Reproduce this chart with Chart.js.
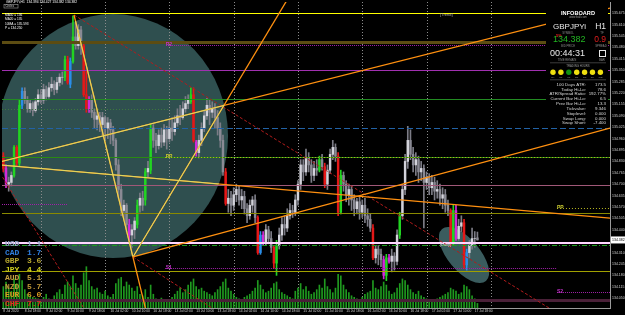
<!DOCTYPE html>
<html><head><meta charset="utf-8">
<script src="https://cdn.jsdelivr.net/npm/chart.js@4.4.1/dist/chart.umd.min.js"></script>
<style>html,body{margin:0;padding:0;background:#000;overflow:hidden}canvas{display:block}</style>
</head><body>
<canvas id="c" width="625" height="315"></canvas>
<script>
// ---------------- DATA ----------------
const symbol = 'GBPJPYi';
const timeframe = 'H1';
const bidPrice = 134.382;
const slotCount = 227;
const xTickLabels = ["8 Jul 2020","8 Jul 18:00","9 Jul 02:00","9 Jul 10:00","9 Jul 18:00","10 Jul 02:00","10 Jul 10:00","10 Jul 18:00","13 Jul 02:00","13 Jul 10:00","13 Jul 18:00","14 Jul 02:00","14 Jul 10:00","14 Jul 18:00","15 Jul 02:00","15 Jul 10:00","15 Jul 18:00","16 Jul 02:00","16 Jul 10:00","16 Jul 18:00","17 Jul 02:00","17 Jul 10:00","17 Jul 18:00"];
const yTickValues = [135.675,135.610,135.545,135.480,135.415,135.350,135.285,135.220,135.155,135.090,135.025,134.960,134.895,134.830,134.765,134.700,134.635,134.570,134.505,134.440,134.310,134.245,134.180,134.115,134.050];
const yMin = 133.994, yMax = 135.739;
const daySeparatorBars = [14,38,62,86,110,134,158,182];

const opens = [134.86,134.79,134.70,134.71,134.75,134.91,134.82,135.15,135.23,135.18,
135.13,135.16,135.12,135.17,135.21,135.18,135.24,135.20,135.25,135.27,
135.24,135.28,135.31,135.31,135.41,135.27,135.40,135.54,135.49,135.58,
135.49,135.21,135.13,135.18,135.11,135.07,135.09,135.04,135.08,135.02,
135.05,135.01,134.95,134.81,134.67,134.55,134.58,134.47,134.41,134.44,
134.47,134.58,134.62,134.61,134.77,134.78,135.02,134.95,134.92,134.98,
134.94,135.01,134.96,135.02,135.00,135.05,135.09,135.08,135.13,135.16,
135.17,135.21,134.94,134.88,134.95,135.02,135.09,135.15,135.11,135.13,
135.08,135.02,134.95,134.77,134.59,134.62,134.58,134.64,134.67,134.61,
134.63,134.56,134.52,134.58,134.61,134.51,134.31,134.41,134.37,134.44,
134.39,134.34,134.25,134.35,134.41,134.47,134.45,134.52,134.55,134.54,
134.61,134.70,134.81,134.77,134.85,134.81,134.75,134.79,134.78,134.84,
134.80,134.70,134.78,134.87,134.91,134.86,134.54,134.75,134.70,134.64,
134.67,134.61,134.56,134.60,134.54,134.58,134.52,134.50,134.45,134.28,
134.33,134.30,134.27,134.18,134.28,134.26,134.29,134.26,134.41,134.52,
134.67,134.83,134.95,134.87,134.81,134.84,134.77,134.79,134.71,134.74,
134.68,134.71,134.66,134.67,134.62,134.64,134.58,134.55,134.37,134.55,
134.39,134.46,134.48,134.24,134.31,134.35,134.39,134.394];
const highs = [134.88,134.81,134.74,134.77,134.92,134.92,135.18,135.25,135.25,135.20,
135.18,135.17,135.19,135.24,135.24,135.27,135.26,135.28,135.31,135.29,
135.31,135.33,135.34,135.43,135.43,135.42,135.66,135.62,135.61,135.60,
135.51,135.35,135.20,135.21,135.13,135.12,135.11,135.11,135.09,135.08,
135.07,135.03,134.96,134.84,134.70,134.61,134.59,134.50,134.47,134.51,
134.61,134.65,134.66,134.79,134.83,135.04,135.04,134.99,135.01,135.02,
135.04,135.03,135.07,135.08,135.09,135.13,135.15,135.17,135.20,135.21,
135.25,135.25,134.95,134.98,135.05,135.12,135.19,135.18,135.17,135.16,
135.12,135.05,134.98,134.79,134.67,134.66,134.68,134.70,134.69,134.67,
134.66,134.59,134.61,134.63,134.64,134.52,134.43,134.43,134.47,134.46,
134.43,134.35,134.38,134.45,134.51,134.52,134.56,134.59,134.58,134.64,
134.72,134.84,134.84,134.90,134.88,134.84,134.83,134.84,134.86,134.87,
134.82,134.81,134.90,134.95,134.93,134.88,134.78,134.77,134.72,134.70,
134.69,134.64,134.62,134.63,134.61,134.62,134.56,134.53,134.47,134.35,
134.35,134.33,134.29,134.30,134.30,134.33,134.31,134.44,134.54,134.70,
134.87,135.03,135.01,134.91,134.88,134.86,134.83,134.81,134.77,134.76,
134.75,134.74,134.72,134.70,134.68,134.67,134.61,134.56,134.58,134.58,
134.50,134.52,134.50,134.33,134.38,134.45,134.43,134.427];
const lows = [134.77,134.68,134.66,134.69,134.74,134.80,134.80,135.13,135.16,135.11,
135.11,135.09,135.11,135.15,135.16,135.16,135.18,135.19,135.23,135.21,
135.22,135.26,135.27,135.29,135.27,135.25,135.39,135.47,135.47,135.44,
135.20,135.11,135.11,135.08,135.02,135.01,135.00,134.98,134.95,134.96,
134.93,134.92,134.78,134.62,134.52,134.50,134.43,134.38,134.34,134.39,
134.45,134.54,134.55,134.58,134.74,134.76,134.91,134.88,134.90,134.91,
134.92,134.90,134.94,134.95,134.98,135.03,135.04,135.07,135.11,135.13,
135.16,134.94,134.86,134.85,134.92,135.00,135.07,135.04,135.08,135.02,
134.98,134.91,134.75,134.58,134.54,134.52,134.55,134.60,134.58,134.56,
134.53,134.48,134.50,134.54,134.48,134.30,134.30,134.35,134.35,134.36,
134.31,134.22,134.18,134.33,134.38,134.41,134.43,134.50,134.51,134.52,
134.58,134.67,134.72,134.75,134.77,134.71,134.72,134.75,134.77,134.78,
134.68,134.67,134.76,134.84,134.83,134.52,134.53,134.66,134.60,134.58,
134.55,134.52,134.53,134.50,134.51,134.48,134.46,134.43,134.27,134.25,
134.24,134.23,134.16,134.15,134.25,134.20,134.21,134.24,134.39,134.50,
134.64,134.79,134.84,134.77,134.75,134.71,134.72,134.45,134.67,134.64,
134.64,134.61,134.62,134.58,134.56,134.54,134.52,134.35,134.35,134.38,
134.38,134.43,134.22,134.21,134.28,134.33,134.34,134.382];
const closes = [134.79,134.70,134.71,134.75,134.91,134.82,135.15,135.23,135.18,135.13,
135.16,135.12,135.17,135.21,135.18,135.24,135.20,135.25,135.27,135.24,
135.28,135.31,135.31,135.41,135.28,135.40,135.54,135.49,135.58,135.49,
135.21,135.13,135.18,135.11,135.07,135.09,135.04,135.08,135.02,135.05,
135.01,134.95,134.81,134.67,134.55,134.58,134.47,134.41,134.44,134.49,
134.58,134.62,134.58,134.77,134.79,135.02,134.95,134.92,134.98,134.94,
135.01,134.96,135.02,135.00,135.05,135.09,135.08,135.13,135.16,135.18,
135.21,134.95,134.88,134.95,135.02,135.09,135.15,135.11,135.13,135.08,
135.02,134.95,134.77,134.59,134.62,134.58,134.64,134.67,134.61,134.63,
134.56,134.52,134.58,134.61,134.51,134.31,134.41,134.37,134.44,134.39,
134.34,134.25,134.35,134.41,134.47,134.45,134.52,134.55,134.54,134.61,
134.70,134.81,134.77,134.85,134.81,134.75,134.79,134.78,134.84,134.80,
134.70,134.78,134.87,134.91,134.86,134.54,134.75,134.70,134.64,134.67,
134.61,134.56,134.60,134.54,134.58,134.52,134.50,134.45,134.28,134.33,
134.30,134.27,134.18,134.28,134.26,134.29,134.26,134.41,134.52,134.67,
134.83,134.95,134.87,134.81,134.84,134.77,134.79,134.71,134.74,134.68,
134.71,134.66,134.67,134.62,134.64,134.58,134.55,134.37,134.55,134.39,
134.46,134.48,134.24,134.31,134.35,134.39,134.39,134.382];
const volumes = [1400,1700,1300,1100,1900,1600,2200,1800,1200,900,
800,700,650,600,500,700,900,600,550,800,
1000,1200,900,1500,1700,1400,2100,1600,1300,1500,
2300,2700,1800,1400,1200,1300,1000,900,1100,800,
700,900,1600,1900,2000,1400,1700,1500,1300,1100,
1400,900,800,1200,700,1500,900,600,500,650,
450,500,400,700,900,1100,1300,1000,1200,1500,
1700,1900,1400,1200,1300,1100,1000,900,800,1000,
1200,1400,1700,1900,1300,1100,900,700,600,500,
700,800,900,1100,1300,1800,1500,1200,1000,1100,
1300,1600,1700,1200,1000,900,800,700,600,1100,
1300,1600,1200,1400,1100,900,1000,1200,1500,1300,
1900,1400,1200,1000,1300,2200,2100,1500,1200,1000,
800,700,600,500,700,900,1000,1100,1800,1300,
1200,1400,1700,1500,1100,900,1000,1300,1600,1900,
1800,1500,1200,1000,900,1100,800,700,600,500,
450,500,600,700,800,900,1000,1300,1200,1100,
900,1000,1500,1400,1200,800,600,300];
// signal-coloured candles (index -> kind)
const signalBars = {0:'r',1:'m',4:'g',5:'r',6:'g',7:'b',23:'g',24:'r',25:'b',26:'g',30:'r',31:'r',32:'m',47:'m',50:'g',53:'g',55:'g',70:'g',71:'r',72:'m',83:'r',95:'r',96:'b',97:'m',101:'r',102:'g',118:'g',120:'r',125:'r',126:'g',138:'r',142:'m',143:'g',144:'m',148:'g',167:'r',168:'g',169:'m',172:'r',173:'b'};

// horizontal levels (prices)
const levelPrices = [135.676,135.511,135.494,135.351,135.186,135.129,135.020,134.855,134.855,134.696,134.587,134.564,134.536,134.365,134.354,134.222,134.205,134.086,134.040];
const levelFromBar = [null,null,61.5,null,null,null,null,null,60.4,null,null,206.7,null,null,null,60.4,null,206.7,null];
const levelToBar   = [null,null,null,null,null,61.5,null,null,null,null,23.8,null,null,null,null,206.7,null,null,null];
// trend lines: [bar1, price1, bar2, price2]
const trendLines = [[26.39,135.665,53.64,133.955],[48.42,134.285,105.92,135.75],[48.42,134.285,226.5,135.020],[-1.25,134.827,226.5,135.704],[-1.25,134.810,226.5,134.507]];
const redLines = [[26.39,135.665,204.9,133.983],[-1.25,134.764,31.6,133.955],[48.42,134.285,79.0,133.983]];
// ellipses
const bigEllipse = {bar1:-1.99, bar2:83.89, p1:135.670, p2:134.279};
const smallEllipse = {bar1:163.8, p1:134.445, bar2:180.2, p2:134.148};
// pivot labels
const pivotLabels = [{bar:60.6,p:135.494,t:'R2'},{bar:60.6,p:134.855,t:'PP'},{bar:60.6,p:134.222,t:'S1'},{bar:206.7,p:135.038,t:'R1'},{bar:206.7,p:134.564,t:'PP'},{bar:206.7,p:134.086,t:'S2'}];
// currency strength
const currencies = ['USD','CAD','GBP','JPY','AUD','NZD','EUR','CHF'];
const strength = [1.1,1.7,3.6,4.4,5.1,5.7,6.0,7.7];
// infoboard
const infoLabels = ['100 Days ATR:','Today Hi-Lo:','ATR/Spread Ratio:','Current Bar Hi-Lo:','Prev Bar Hi-Lo:','Tickvalue:','Stoplevel:','Swap Long:','Swap Short:'];
const infoValues = ['173.5','78.6','192.77%','6.5','13.3','9.346','0.000','0.000','-7.400'];
const sessionState = [1,1,2,1,1,1,1];
const sessionNames = ['SY','TK','HK','FR','LN','NY','WS'];

// ---------------- STYLE ----------------
const SIG = {g:'#22d422', r:'#e41818', b:'#2a8ee8', m:'#d22ad8'};
const bodyColors = opens.map((o,i)=> signalBars[i] ? SIG[signalBars[i]] : (closes[i] >= o ? '#d2d2da' : '#8a8a94'));
const wickColors = opens.map((o,i)=> signalBars[i] ? SIG[signalBars[i]] : '#7c7c86');
const levelStyles = [
 {c:'#ffff00',w:1},{c:'#5c4c12',w:3},{c:'#a020a8',w:1,d:[1,1]},{c:'#a030b0',w:1},{c:'#228b22',w:1},
 {c:'#3c7a3c',w:1,d:[1,2]},{c:'#2262a6',w:1,d:[6,3]},{c:'#2a8a12',w:1},{c:'#b8b820',w:1,d:[1,2]},{c:'#a05878',w:1},
 {c:'#a020a8',w:1,d:[1,1]},{c:'#b8b820',w:1,d:[1,2]},{c:'#8a8a00',w:1},{c:'#ffd6ff',w:2},{c:'#1e9e1e',w:1,d:[5,2,1,2]},
 {c:'#a020a8',w:1,d:[1,1]},{c:'#a0a000',w:1},{c:'#a020a8',w:1,d:[1,1]},{c:'#4a2038',w:3}];
const curColors = ['#8ea4c4','#2f7fe0','#b8a830','#d0d020','#c8a040','#c09838','#d89a20','#e03020'];
const F = '"Liberation Sans", Arial, sans-serif';

const labels = Array.from({length:slotCount},(_,i)=>String(i));

const mt4 = {
 id:'mt4',
 beforeDraw(ch){const c=ch.ctx;c.save();c.fillStyle='#000';c.fillRect(0,0,ch.width,ch.height);c.restore();},
 beforeDatasetsDraw(ch){
  const c=ch.ctx,a=ch.chartArea,x=ch.scales.x,y=ch.scales.y;
  c.save();c.beginPath();c.rect(a.left,a.top,a.right-a.left,a.bottom-a.top);c.clip();
  let x1=x.getPixelForValue(bigEllipse.bar1),x2=x.getPixelForValue(bigEllipse.bar2),y1=y.getPixelForValue(bigEllipse.p1),y2=y.getPixelForValue(bigEllipse.p2);
  c.fillStyle='#2f4f4f';c.beginPath();c.ellipse((x1+x2)/2,(y1+y2)/2,Math.abs(x2-x1)/2,Math.abs(y2-y1)/2,0,0,Math.PI*2);c.fill();
  const ax=x.getPixelForValue(smallEllipse.bar1),ay=y.getPixelForValue(smallEllipse.p1),bx=x.getPixelForValue(smallEllipse.bar2),by=y.getPixelForValue(smallEllipse.p2);
  const r=Math.hypot(bx-ax,by-ay)/2;
  c.fillStyle='#3a5c5e';c.beginPath();c.ellipse((ax+bx)/2,(ay+by)/2,r,r*0.47,Math.atan2(by-ay,bx-ax),0,Math.PI*2);c.fill();
  c.strokeStyle='#8c8c8c';c.lineWidth=1;c.setLineDash([1,2]);
  daySeparatorBars.forEach(b=>{const px=Math.round(x.getPixelForValue(b))+0.5;c.beginPath();c.moveTo(px,a.top);c.lineTo(px,a.bottom);c.stroke();});
  c.restore();
 },
 afterDatasetsDraw(ch){
  const c=ch.ctx,a=ch.chartArea,x=ch.scales.x,y=ch.scales.y;
  c.save();c.beginPath();c.rect(a.left,a.top,a.right-a.left,a.bottom-a.top);c.clip();
  levelPrices.forEach((p,i)=>{
   const s=levelStyles[i];const py=(s.w%2?Math.round(y.getPixelForValue(p))+0.5:Math.round(y.getPixelForValue(p)));
   const xa=levelFromBar[i]==null?a.left:x.getPixelForValue(levelFromBar[i]);
   const xb=levelToBar[i]==null?a.right:x.getPixelForValue(levelToBar[i]);
   c.strokeStyle=s.c;c.lineWidth=s.w;c.setLineDash(s.d||[]);c.beginPath();c.moveTo(xa,py);c.lineTo(xb,py);c.stroke();
  });
  c.setLineDash([]);
  c.strokeStyle='#b21c1c';c.lineWidth=1;c.setLineDash([3,2]);
  redLines.forEach(l=>{c.beginPath();c.moveTo(x.getPixelForValue(l[0]),y.getPixelForValue(l[1]));c.lineTo(x.getPixelForValue(l[2]),y.getPixelForValue(l[3]));c.stroke();});
  c.setLineDash([]);
  c.strokeStyle='#ff9010';c.lineWidth=1.3;
  trendLines.forEach(l=>{c.beginPath();c.moveTo(x.getPixelForValue(l[0]),y.getPixelForValue(l[1]));c.lineTo(x.getPixelForValue(l[2]),y.getPixelForValue(l[3]));c.stroke();});
  c.save();
  let x1=x.getPixelForValue(bigEllipse.bar1),x2=x.getPixelForValue(bigEllipse.bar2),y1=y.getPixelForValue(bigEllipse.p1),y2=y.getPixelForValue(bigEllipse.p2);
  c.beginPath();c.ellipse((x1+x2)/2,(y1+y2)/2,Math.abs(x2-x1)/2,Math.abs(y2-y1)/2,0,0,Math.PI*2);c.clip();
  c.strokeStyle='#dcdc66';c.lineWidth=1;
  trendLines.forEach(l=>{c.beginPath();c.moveTo(x.getPixelForValue(l[0]),y.getPixelForValue(l[1]));c.lineTo(x.getPixelForValue(l[2]),y.getPixelForValue(l[3]));c.stroke();});
  c.restore();
  c.font='bold 5px '+F;c.textBaseline='middle';c.textAlign='left';
  pivotLabels.forEach(l=>{c.fillStyle=l.t==='PP'?'#c8c830':'#c030c8';c.fillText(l.t,x.getPixelForValue(l.bar),y.getPixelForValue(l.p));});
  c.fillStyle='#a8a8a8';c.font='4px '+F;c.fillText('[Trend]',440,15);
  c.fillStyle='#d8d8d8';c.fillText('[Daily]',440,245);
  c.restore();

  c.save();c.textBaseline='middle';c.textAlign='left';
  c.fillStyle='#ffffff';c.font='3.3px '+F;
  c.fillText(symbol+','+timeframe+'  134.394 134.427 134.382 134.382',6,2.5);
  c.strokeStyle='#a0a0a0';c.lineWidth=0.6;c.strokeRect(4,4.5,14,3.5);c.font='2.8px '+F;c.fillStyle='#d0d0d0';c.fillText('Circles',5.5,6.3);
  c.font='3.2px '+F;c.fillStyle='#ffffff';
  ['MA50 = 136','MA20 = 135','10MA = 135.593','P = 134.250'].forEach((t,i)=>c.fillText(t,5,15+i*4.5));
  c.font='bold 8px "Liberation Mono", monospace';
  currencies.forEach((cu,i)=>{const yy=244+i*8.5;c.fillStyle=curColors[i];c.fillText(cu,5,yy);c.fillText(strength[i].toFixed(1),27,yy);});
  c.fillStyle='#000';c.fillRect(546,4,62,123);
  c.textAlign='center';c.fillStyle='#ffffff';c.font='bold 5.6px '+F;c.fillText('INFOBOARD',578,13);
  c.font='2.8px '+F;c.fillStyle='#9a9a9a';c.fillText('www.fxall.com',578,17);
  c.textAlign='left';c.font='8px '+F;c.fillStyle='#e8e8e8';c.fillText(symbol,553,27);
  c.textAlign='right';c.font='8.5px '+F;c.fillText(timeframe,606,27);
  c.font='2.8px '+F;c.fillStyle='#8a8a8a';c.textAlign='center';c.fillText('SYMBOL',568,33);c.fillText('TF',602,33);
  c.textAlign='left';c.font='bold 4px '+F;c.fillStyle='#e02020';c.fillText('5%',556,36);
  c.font='9px '+F;c.fillStyle='#22b422';c.fillText(bidPrice.toFixed(3),553,40);
  c.textAlign='right';c.fillStyle='#e41e1e';c.font='8.5px '+F;c.fillText('0.9',606,40);
  c.font='2.8px '+F;c.fillStyle='#8a8a8a';c.textAlign='center';c.fillText('BID PRICE',568,46);c.fillText('SPREAD',601,46);
  c.textAlign='left';c.font='9px '+F;c.fillStyle='#e8e8e8';c.fillText('00:44:31',550,54);
  c.strokeStyle='#e8e8e8';c.lineWidth=1;c.strokeRect(599.5,50.5,6,6);
  c.font='2.8px '+F;c.fillStyle='#8a8a8a';c.textAlign='center';c.fillText('TIME REMAIN',567,60);c.fillText('BAR',602,60);
  c.fillStyle='#555';c.fillRect(550,62.5,56,0.7);
  c.fillStyle='#9a9a9a';c.fillText('TRADING HOURS',578,66.5);
  sessionState.forEach((s,i)=>{const cx=553+i*7.9;c.fillStyle=s===2?'#109010':'#f0e010';c.beginPath();c.arc(cx,72.3,2.7,0,Math.PI*2);c.fill();c.fillStyle='#9a9a9a';c.font='2.5px '+F;c.fillText(sessionNames[i],cx,77.2);});
  c.fillStyle='#555';c.fillRect(550,79.5,56,0.7);
  c.font='4.4px '+F;
  const rowsY=[85,89.5,94,99,104,109,114,118.5,123];
  infoLabels.forEach((t,i)=>{c.fillStyle='#d8d8d8';c.textAlign='right';c.fillText(t,586,rowsY[i]);c.fillText(infoValues[i],606,rowsY[i]);});
  const py=y.getPixelForValue(bidPrice);
  c.fillStyle='#ffffff';c.fillRect(a.right+1,py-3.5,14,7);
  c.fillStyle='#000';c.textAlign='left';c.font='3.5px '+F;c.fillText(bidPrice.toFixed(3),a.right+2,py);
  c.restore();
 }
};

new Chart(document.getElementById('c'),{
 type:'bar',
 data:{labels:labels,datasets:[
  {label:'Bodies',data:opens.map((o,i)=>[o,closes[i]]),backgroundColor:bodyColors,barThickness:1.8,grouped:false,borderWidth:0,order:0,yAxisID:'y'},
  {label:'Wicks',data:lows.map((l,i)=>[l,highs[i]]),backgroundColor:wickColors,barThickness:1,grouped:false,borderWidth:0,order:1,yAxisID:'y'},
  {label:'Volume',data:volumes,backgroundColor:'#1f9a1f',barThickness:1,grouped:false,borderWidth:0,order:2,yAxisID:'yv'}
 ]},
 options:{
  responsive:false,animation:false,maintainAspectRatio:false,
  layout:{padding:{left:2,top:2,right:0,bottom:0}},
  plugins:{legend:{display:false},tooltip:{enabled:false}},
  scales:{
   x:{type:'category',offset:true,grid:{display:false,drawTicks:false},border:{display:true,color:'#9c9c9c'},
      ticks:{autoSkip:false,maxRotation:0,minRotation:0,align:'start',padding:1,color:'#d0d0d0',font:{size:3.3,family:'Liberation Sans'},
        callback:(v,i)=>(i%8===0 && i/8<xTickLabels.length)?xTickLabels[i/8]:''},
      afterFit:s=>{s.height=7;s.paddingLeft=0;s.paddingRight=0;}},
   y:{position:'right',min:yMin,max:yMax,grid:{display:false,drawTicks:false},border:{display:true,color:'#9c9c9c'},
      ticks:{padding:2,color:'#d0d0d0',autoSkip:false,font:{size:3.5,family:'Liberation Sans'},callback:v=>Number(v).toFixed(3)},
      afterBuildTicks:s=>{s.ticks=yTickValues.map(v=>({value:v}));},
      afterFit:s=>{s.width=15;s.paddingTop=0;s.paddingBottom=0;}},
   yv:{display:false,min:0,max:20000}
  }
 },
 plugins:[mt4]
});
</script>
</body></html>
